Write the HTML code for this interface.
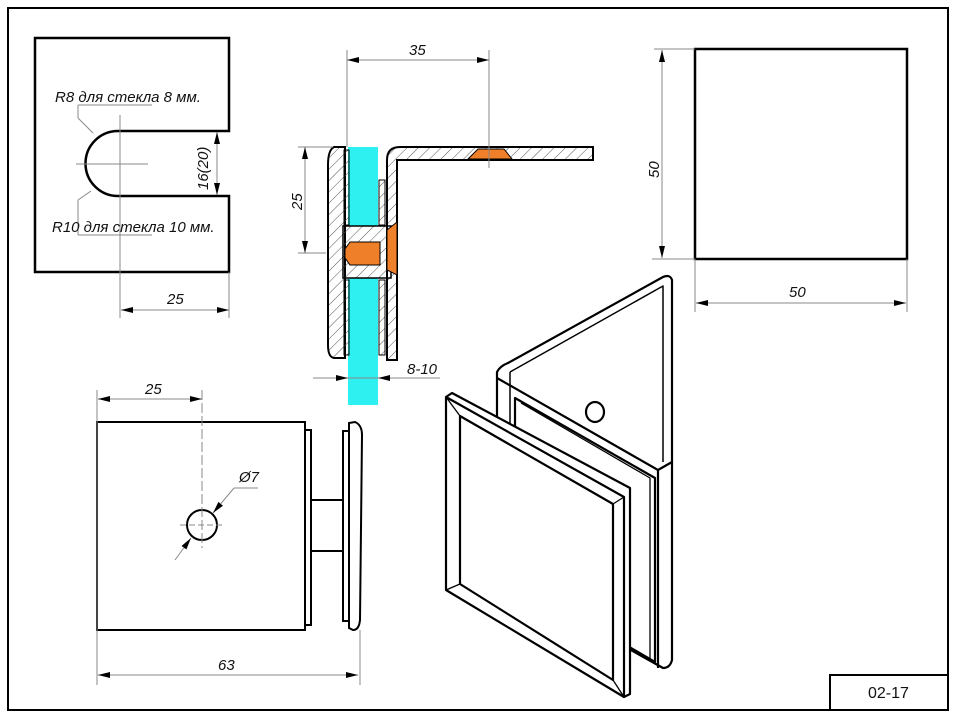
<!DOCTYPE html>
<html><head><meta charset="utf-8"><style>
html,body{margin:0;padding:0;background:#fff;}
svg{display:block;}
text{font-family:"Liberation Sans",sans-serif;font-style:italic;font-size:15px;fill:#111;}
</style></head><body>
<svg width="957" height="717" viewBox="0 0 957 717" xmlns="http://www.w3.org/2000/svg">
<defs>
<marker id="a" viewBox="0 0 12 6" refX="12" refY="3" markerWidth="12" markerHeight="6" orient="auto-start-reverse" markerUnits="userSpaceOnUse"><path d="M0,0 L12,3 L0,6 Z" fill="#000"/></marker>
<pattern id="h" width="8" height="8" patternUnits="userSpaceOnUse" patternTransform="rotate(45)"><line x1="0" y1="0" x2="0" y2="8" stroke="#555" stroke-width="1"/></pattern>
</defs>
<rect width="957" height="717" fill="#fff"/>
<rect x="8" y="8" width="940" height="702" fill="none" stroke="#000" stroke-width="2"/>
<rect x="830" y="675" width="118" height="35" fill="none" stroke="#000" stroke-width="2"/>
<text x="868" y="698" style="font-style:normal;font-size:16px">02-17</text>

<g stroke="#000" fill="none">
<path d="M229,131 L229,38 L35,38 L35,272 L229,272 L229,196 L118,196 A32.5,32.5 0 0 1 118,131 Z" stroke-width="2.5"/>
<g stroke="#888" stroke-width="1">
<line x1="120" y1="115" x2="120" y2="318"/>
<line x1="76" y1="164" x2="148" y2="164"/>
<line x1="229" y1="272" x2="229" y2="318"/>
<line x1="78" y1="105" x2="152" y2="105"/><line x1="78" y1="105" x2="78" y2="118"/><line x1="78" y1="118" x2="93" y2="133"/>
<line x1="78" y1="235" x2="152" y2="235"/><line x1="78" y1="235" x2="78" y2="200"/><line x1="78" y1="200" x2="91" y2="191"/>
<line x1="121" y1="310" x2="229" y2="310" marker-start="url(#a)" marker-end="url(#a)"/>
<line x1="217" y1="132" x2="217" y2="195" marker-start="url(#a)" marker-end="url(#a)"/>
</g>
</g>
<text x="55" y="102">R8 для стекла 8 мм.</text>
<text x="52" y="232">R10 для стекла 10 мм.</text>
<text x="167" y="304">25</text>
<text transform="translate(208,190) rotate(-90)">16(20)</text>

<rect x="348" y="147" width="30" height="258" fill="#2ff0f0"/>
<rect x="348" y="226" width="30" height="52" fill="#fff"/>
<g stroke="#000" stroke-width="2">
<path d="M397,360 L387,360 L387,160 Q387,147 400,147 L593,147 L593,160 L397,160 Z" fill="url(#h)"/>
<path d="M345,147 L334,147 Q328,150 328,165 L328,345 Q328,357 334,358 L345,358 Z" fill="url(#h)"/>
<rect x="343" y="226" width="48" height="52" fill="url(#h)" stroke-width="1.5"/>
</g>
<rect x="344" y="150" width="5" height="75" fill="url(#h)" stroke="#000"/>
<rect x="344" y="280" width="5" height="75" fill="url(#h)" stroke="#000"/>
<rect x="379" y="180" width="6" height="45" fill="url(#h)" stroke="#000"/>
<rect x="379" y="280" width="6" height="75" fill="url(#h)" stroke="#000"/>
<path d="M350,242 L380,242 L380,265 L350,265 L345,258 L345,249 Z" fill="#f07f2a" stroke="#000"/>
<path d="M387,230 L397,222 L397,275 L387,270 Z" fill="#f07f2a" stroke="#000"/>
<path d="M468,159 L478,149 L504,149 L512,159 Z" fill="#f07f2a" stroke="#000"/>
<g stroke="#888" stroke-width="1">
<line x1="347" y1="50" x2="347" y2="147"/><line x1="489" y1="50" x2="489" y2="168"/>
<line x1="347" y1="60" x2="489" y2="60" marker-start="url(#a)" marker-end="url(#a)"/>
<line x1="298" y1="147" x2="333" y2="147"/><line x1="298" y1="253" x2="326" y2="253"/>
<line x1="305" y1="147" x2="305" y2="253" marker-start="url(#a)" marker-end="url(#a)"/>
<line x1="313" y1="378" x2="348" y2="378" marker-end="url(#a)"/>
<line x1="440" y1="378" x2="378" y2="378" marker-end="url(#a)"/>
<line x1="348" y1="378" x2="378" y2="378"/>
</g>
<text x="409" y="55">35</text>
<text transform="translate(302,210) rotate(-90)">25</text>
<text x="407" y="374">8-10</text>

<rect x="695" y="49" width="212" height="210" fill="none" stroke="#000" stroke-width="2.5"/>
<g stroke="#888" stroke-width="1">
<line x1="654" y1="49" x2="695" y2="49"/><line x1="652" y1="259" x2="695" y2="259"/>
<line x1="662" y1="50" x2="662" y2="258" marker-start="url(#a)" marker-end="url(#a)"/>
<line x1="695" y1="259" x2="695" y2="312"/><line x1="907" y1="259" x2="907" y2="312"/>
<line x1="696" y1="303" x2="906" y2="303" marker-start="url(#a)" marker-end="url(#a)"/>
</g>
<text transform="translate(659,178) rotate(-90)">50</text>
<text x="789" y="297">50</text>

<g stroke="#000" stroke-width="2" fill="#fff">
<rect x="97" y="422" width="208" height="208"/>
<rect x="305" y="430" width="6" height="195"/>
<rect x="311" y="500" width="32" height="51"/>
<rect x="343" y="431" width="6" height="190"/>
<path d="M349,423 L355,422 Q362,425 362,435 L360,620 Q359,630 353,630 L349,628 Z"/>
<circle cx="202" cy="525" r="15"/>
</g>
<g stroke="#888" stroke-width="1">
<line x1="202" y1="390" x2="202" y2="548" stroke-dasharray="10,3"/>
<line x1="180" y1="525" x2="225" y2="525" stroke-dasharray="6,3"/>
<line x1="97" y1="390" x2="97" y2="685"/><line x1="360" y1="630" x2="360" y2="685"/>
<line x1="98" y1="399" x2="202" y2="399" marker-start="url(#a)" marker-end="url(#a)"/>
<line x1="98" y1="675" x2="358" y2="675" marker-start="url(#a)" marker-end="url(#a)"/>
<line x1="234" y1="488" x2="258" y2="488"/>
<line x1="234" y1="488" x2="213" y2="513" marker-end="url(#a)"/>
<line x1="175" y1="560" x2="191" y2="538" marker-end="url(#a)"/>
</g>
<text x="145" y="394">25</text>
<text x="239" y="482">Ø7</text>
<text x="218" y="670">63</text>

<g stroke="#000" stroke-width="2.2" fill="#fff" stroke-linejoin="round">
<path d="M497,378 L497,372 Q500,366 508,363 L663,277 Q670,274 672,280 L672,660 Q670,668 663,668 L497,575 Z"/>
<path d="M497,378 L658,470 L672,462" fill="none"/>
<line x1="658" y1="470" x2="658" y2="668"/>
<path d="M510,372 L663,286 L663,462" fill="none" stroke-width="1.5"/>
<line x1="510" y1="372" x2="510" y2="445" stroke-width="1.5"/>
<ellipse cx="595" cy="412" rx="9" ry="10"/>
<path d="M515,398 L655,478 L655,662 L515,580 Z"/>
<path d="M521,403 L650,478 L650,658" fill="none" stroke-width="1.3"/>
<path d="M446,397 L452,393 L630,488 L630,694 L624,697 L446,590 Z"/>
<path d="M446,397 L624,497 L624,697" fill="none"/>
<path d="M460,416 L613,504 L613,680 L460,584 Z"/>
<line x1="446" y1="397" x2="460" y2="416" stroke-width="1.3"/>
<line x1="624" y1="497" x2="613" y2="504" stroke-width="1.3"/>
<line x1="624" y1="697" x2="613" y2="680" stroke-width="1.3"/>
<line x1="446" y1="590" x2="460" y2="584" stroke-width="1.3"/>
</g>
</svg>
</body></html>
